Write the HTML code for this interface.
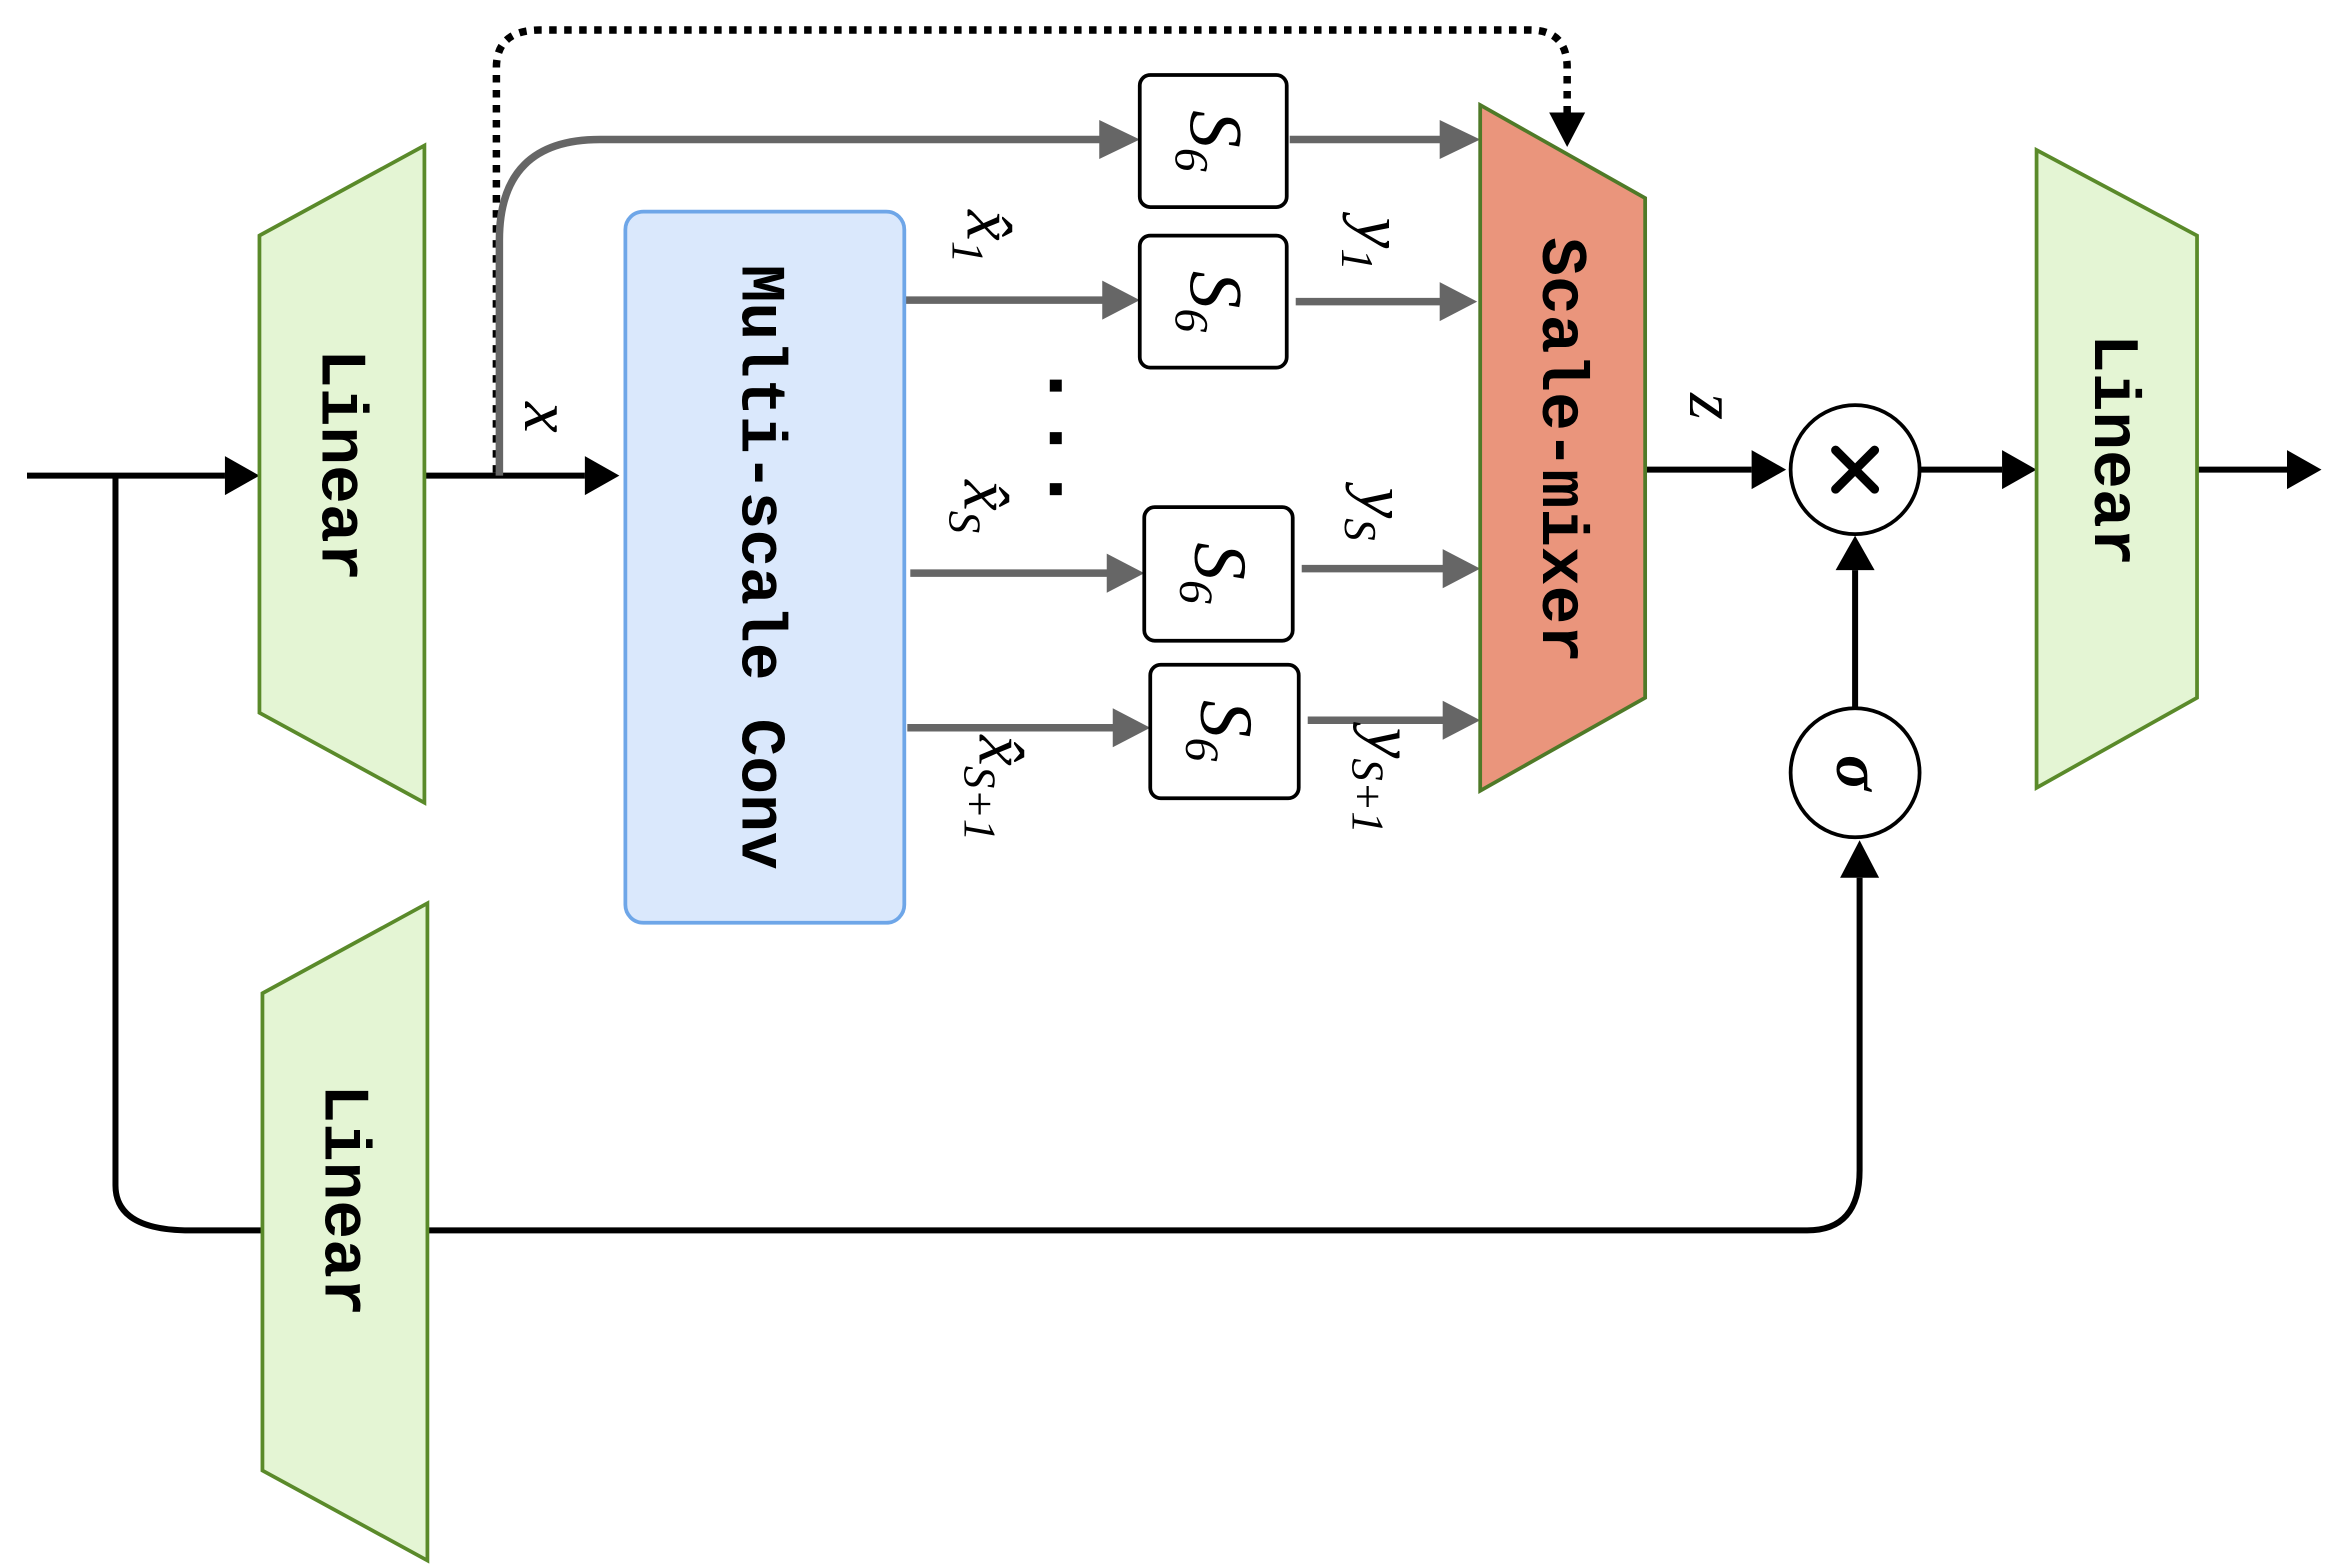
<!DOCTYPE html>
<html><head><meta charset="utf-8"><style>
html,body{margin:0;padding:0;background:#fff;}
svg{display:block;}
.mono{font-family:"Liberation Mono",monospace;font-weight:bold;}
.ser{font-family:"Liberation Serif",serif;font-style:italic;}
</style></head><body>
<svg width="2344" height="1568" viewBox="0 0 1563 1045" preserveAspectRatio="none" xmlns="http://www.w3.org/2000/svg">
<g fill="none" stroke="#000" stroke-width="4">
<path d="M18,317 H150"/>
<path d="M77,317 V790 Q77,820 127,820 H175"/>
<path d="M285,820 H1205 Q1240,820 1240,780 V585"/>
<path d="M283,317 H390"/>
<path d="M1097,313 H1168"/>
<path d="M1280,313 H1335"/>
<path d="M1465,313 H1525"/>
<path d="M1237,472 V380"/>
<path d="M331,315 V45 Q331,20 360,20 H1020 Q1045,20 1045,45 V75" stroke-dasharray="5,5" stroke-width="5"/>
</g>
<g fill="#000">
<path d="M150,304 L173,317 L150,330 Z"/>
<path d="M390,304 L413,317 L390,330 Z"/>
<path d="M1168,300 L1191,313 L1168,326 Z"/>
<path d="M1335,300 L1358,313 L1335,326 Z"/>
<path d="M1525,300 L1548,313 L1525,326 Z"/>
<path d="M1224,380 L1237,357 L1250,380 Z"/>
<path d="M1227,585 L1240,560 L1253,585 Z"/>
<path d="M1033,75 L1045,98 L1057,75 Z"/>
</g>
<g fill="none" stroke="#666" stroke-width="5">
<path d="M333,317 V160 Q333,93 400,93 H735"/>
<path d="M603,200 H737"/>
<path d="M607,382 H740"/>
<path d="M605,485 H744"/>
<path d="M860,93 H963"/>
<path d="M864,201 H962"/>
<path d="M868,379 H964"/>
<path d="M872,480 H964"/>
</g>
<g fill="#666">
<path d="M733,80 L760,93 L733,106 Z"/>
<path d="M735,187 L760,200 L735,213 Z"/>
<path d="M738,369 L763,382 L738,395 Z"/>
<path d="M742,472 L767,485 L742,498 Z"/>
<path d="M960,80 L987,93 L960,106 Z"/>
<path d="M960,188 L985,201 L960,214 Z"/>
<path d="M962,366 L987,379 L962,392 Z"/>
<path d="M962,467 L987,480 L962,493 Z"/>
</g>
<g fill="#e4f5d4" stroke="#5a8a2a" stroke-width="2.5">
<path d="M173,157 L283,97 L283,535 L173,475 Z"/>
<path d="M175,662 L285,602 L285,1040 L175,980 Z"/>
<path d="M1358,100 L1465,157 L1465,465 L1358,525 Z"/>
</g>
<path d="M987,70 L1097,132 L1097,465 L987,527 Z" fill="#ea957c" stroke="#4f7a28" stroke-width="2.5"/>
<rect x="417" y="141" width="186" height="474" rx="12" fill="#dae8fc" stroke="#6ea6e8" stroke-width="2.5"/>
<g fill="#fff" stroke="#000" stroke-width="2.5">
<rect x="760" y="50" width="98" height="88" rx="7"/>
<rect x="760" y="157" width="98" height="88" rx="7"/>
<rect x="763" y="338" width="99" height="89" rx="7"/>
<rect x="767" y="443" width="99" height="89" rx="7"/>
<circle cx="1237" cy="313" r="43"/>
<circle cx="1237" cy="515" r="43"/>
</g>
<g font-family="Liberation Mono, monospace" font-weight="bold" font-size="43" text-anchor="middle" fill="#000">
<text transform="translate(228,310) rotate(90)" dy="13">Linear</text>
<text transform="translate(230,800) rotate(90)" dy="13">Linear</text>
<text transform="translate(1410,300) rotate(90)" dy="13">Linear</text>
<text transform="translate(1042,300) rotate(90)" dy="13">Scale-mixer</text>
<text transform="translate(508,378) rotate(90)" dy="13" font-size="42">Multi-scale Conv</text>
</g>
<g font-family="Liberation Serif, serif" font-style="italic" font-size="50" text-anchor="middle" fill="#000">
<text transform="translate(809,94) rotate(90)" dy="15">S<tspan font-size="32" dy="10">6</tspan></text>
<text transform="translate(809,201) rotate(90)" dy="15">S<tspan font-size="32" dy="10">6</tspan></text>
<text transform="translate(812,382) rotate(90)" dy="15">S<tspan font-size="32" dy="10">6</tspan></text>
<text transform="translate(816,487) rotate(90)" dy="15">S<tspan font-size="32" dy="10">6</tspan></text>
</g>
<g font-family="Liberation Serif, serif" font-style="italic" font-size="46" fill="#000">
<text transform="translate(350,268) rotate(90)">x</text>
<text transform="translate(1127,262) rotate(90)">z</text>
<text transform="translate(645,140) rotate(90)">x̂<tspan font-size="30" dy="10">1</tspan></text>
<text transform="translate(905,145) rotate(90)">y<tspan font-size="30" dy="10">1</tspan></text>
<text transform="translate(643,320) rotate(90)">x̂<tspan font-size="30" dy="10">S</tspan></text>
<text transform="translate(907,325) rotate(90)">y<tspan font-size="30" dy="10">S</tspan></text>
<text transform="translate(653,490) rotate(90)">x̂<tspan font-size="30" dy="10">S+1</tspan></text>
<text transform="translate(912,485) rotate(90)">y<tspan font-size="30" dy="10">S+1</tspan></text>
</g>
<g fill="#000">
<rect x="700" y="253" width="8" height="8"/>
<rect x="700" y="288" width="8" height="8"/>
<rect x="700" y="322" width="8" height="8"/>
</g>
<g stroke="#000" stroke-width="6" stroke-linecap="round">
<path d="M1224,300 L1250,326 M1250,300 L1224,326"/>
</g>
<text transform="translate(1237,515) rotate(90)" text-anchor="middle" dy="12" font-family="Liberation Serif, serif" font-style="italic" font-weight="bold" font-size="44">σ</text>
</svg>
</body></html>
